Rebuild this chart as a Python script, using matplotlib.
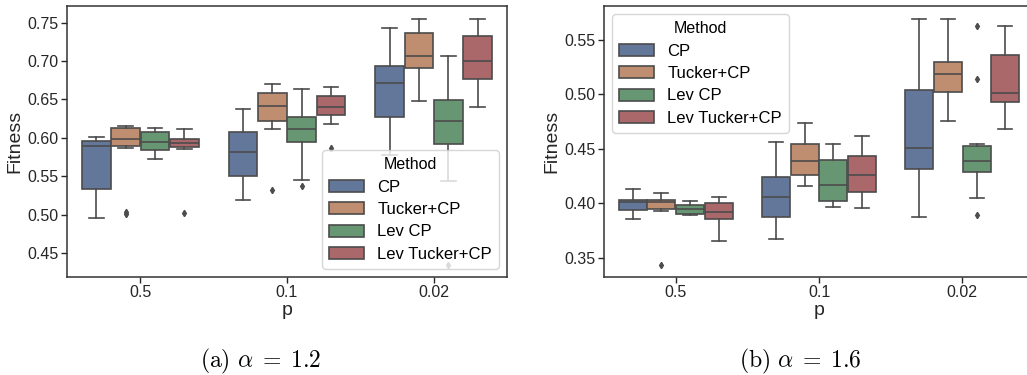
import colorsys
import matplotlib
matplotlib.use('Agg')
import matplotlib.pyplot as plt
from matplotlib.patches import Patch
import matplotlib.colors as mcolors

plt.rcParams['font.family'] = ['Liberation Sans', 'DejaVu Sans']
plt.rcParams['mathtext.fontset'] = 'cm'

# ── Data ──────────────────────────────────────────────────────────────────────
P_LABELS = ['0.5', '0.1', '0.02']
METHODS = ['CP', 'Tucker+CP', 'Lev CP', 'Lev Tucker+CP']

# alpha = 1.2 ; rows = methods, columns = p
A12_WHISLO = [[0.495, 0.519, 0.578], [0.587, 0.611, 0.648], [0.572, 0.545, 0.544], [0.585, 0.618, 0.640]]
A12_Q1     = [[0.534, 0.550, 0.627], [0.590, 0.622, 0.691], [0.584, 0.594, 0.592], [0.588, 0.630, 0.677]]
A12_MED    = [[0.590, 0.581, 0.672], [0.599, 0.641, 0.706], [0.594, 0.611, 0.622], [0.593, 0.640, 0.700]]
A12_Q3     = [[0.596, 0.607, 0.694], [0.613, 0.658, 0.737], [0.607, 0.627, 0.649], [0.599, 0.655, 0.732]]
A12_WHISHI = [[0.601, 0.638, 0.743], [0.616, 0.670, 0.755], [0.613, 0.663, 0.707], [0.611, 0.666, 0.755]]
# (method index, p index, value)
A12_FLIERS = [(1, 0, 0.501), (1, 0, 0.503), (3, 0, 0.502), (1, 1, 0.532),
              (2, 1, 0.537), (3, 1, 0.587), (2, 2, 0.435)]

# alpha = 1.6
A16_WHISLO = [[0.386, 0.367, 0.388], [0.393, 0.416, 0.476], [0.389, 0.397, 0.405], [0.366, 0.396, 0.468]]
A16_Q1     = [[0.394, 0.388, 0.432], [0.395, 0.426, 0.502], [0.390, 0.402, 0.429], [0.386, 0.411, 0.493]]
A16_MED    = [[0.401, 0.406, 0.451], [0.401, 0.439, 0.519], [0.395, 0.417, 0.439], [0.392, 0.426, 0.501]]
A16_Q3     = [[0.403, 0.424, 0.504], [0.403, 0.455, 0.530], [0.399, 0.440, 0.453], [0.400, 0.444, 0.536]]
A16_WHISHI = [[0.413, 0.456, 0.569], [0.410, 0.474, 0.569], [0.402, 0.455, 0.455], [0.406, 0.462, 0.563]]
A16_FLIERS = [(1, 0, 0.344), (2, 2, 0.563), (2, 2, 0.514), (2, 2, 0.389)]

# ── Colours: seaborn "deep", desaturated (looks like 0.75 applied twice) ──────
DEEP = ['#4C72B0', '#DD8452', '#55A868', '#C44E52']


def desat(c, prop=0.5625):
    h, l, s = colorsys.rgb_to_hls(*mcolors.to_rgb(c))
    return colorsys.hls_to_rgb(h, l, s * prop)


COLORS = [desat(c) for c in DEEP]
lum = min(colorsys.rgb_to_hls(*c)[1] for c in COLORS) * 0.6
GRAY = (lum, lum, lum)
SPINE = '#333333'


def draw_panel(ax, whislo, q1, med, q3, whishi, fliers, ylim, legend_loc):
    n = len(METHODS)
    step = 0.8 / n
    for m in range(n):
        stats, pos = [], []
        for g in range(len(P_LABELS)):
            fl = [v for (mi, gi, v) in fliers if mi == m and gi == g]
            stats.append(dict(whislo=whislo[m][g], q1=q1[m][g], med=med[m][g],
                              q3=q3[m][g], whishi=whishi[m][g], fliers=fl))
            pos.append(g - 0.4 + step * (m + 0.5))
        ax.bxp(stats, positions=pos, widths=step * 0.98, patch_artist=True,
               manage_ticks=False,
               boxprops=dict(facecolor=COLORS[m], edgecolor=GRAY, linewidth=1.2),
               medianprops=dict(color=GRAY, linewidth=1.2),
               whiskerprops=dict(color=GRAY, linewidth=1.2),
               capprops=dict(color=GRAY, linewidth=1.2),
               flierprops=dict(marker='d', markersize=3.2, markerfacecolor=GRAY,
                               markeredgecolor=GRAY, linestyle='none'))
    ax.set_xlim(-0.5, len(P_LABELS) - 0.5)
    ax.set_xticks(range(len(P_LABELS)))
    ax.set_xticklabels(P_LABELS)
    ax.set_ylim(*ylim)
    ax.set_xlabel('p', fontsize=14, color='#262626', labelpad=1)
    ax.set_ylabel('Fitness', fontsize=14, color='#262626', labelpad=3)
    ax.tick_params(labelsize=11.5, colors='#262626', length=4, width=1.0,
                   direction='out', pad=2)
    for sp in ax.spines.values():
        sp.set_color(SPINE)
        sp.set_linewidth(1.1)
    handles = [Patch(facecolor=COLORS[i], edgecolor=GRAY, linewidth=1.2, label=METHODS[i])
               for i in range(n)]
    ax.legend(handles=handles, title='Method', loc=legend_loc, fontsize=12,
              title_fontsize=11.5, framealpha=0.8, borderpad=0.4,
              labelspacing=0.45, handlelength=2.1)


fig = plt.figure(figsize=(10.27, 3.75), dpi=100)
ax1 = fig.add_axes([67 / 1027, 1 - 277 / 375, 440 / 1027, 271 / 375])
ax2 = fig.add_axes([604 / 1027, 1 - 277 / 375, 430 / 1027, 271 / 375])

draw_panel(ax1, A12_WHISLO, A12_Q1, A12_MED, A12_Q3, A12_WHISHI, A12_FLIERS,
           (0.4188, 0.7717), 'lower right')
ax1.set_yticks([0.45, 0.50, 0.55, 0.60, 0.65, 0.70, 0.75])
draw_panel(ax2, A16_WHISLO, A16_Q1, A16_MED, A16_Q3, A16_WHISHI, A16_FLIERS,
           (0.3326, 0.5811), 'upper left')
ax2.set_yticks([0.35, 0.40, 0.45, 0.50, 0.55])

fig.text(261 / 1027, 1 - 361 / 375, r'$\mathrm{(a)}\ \alpha\;=\;1.2$', ha='center',
         va='center', fontsize=17)
fig.text(800 / 1027, 1 - 361 / 375, r'$\mathrm{(b)}\ \alpha\;=\;1.6$', ha='center',
         va='center', fontsize=17)

fig.savefig('out.png', dpi=100)
